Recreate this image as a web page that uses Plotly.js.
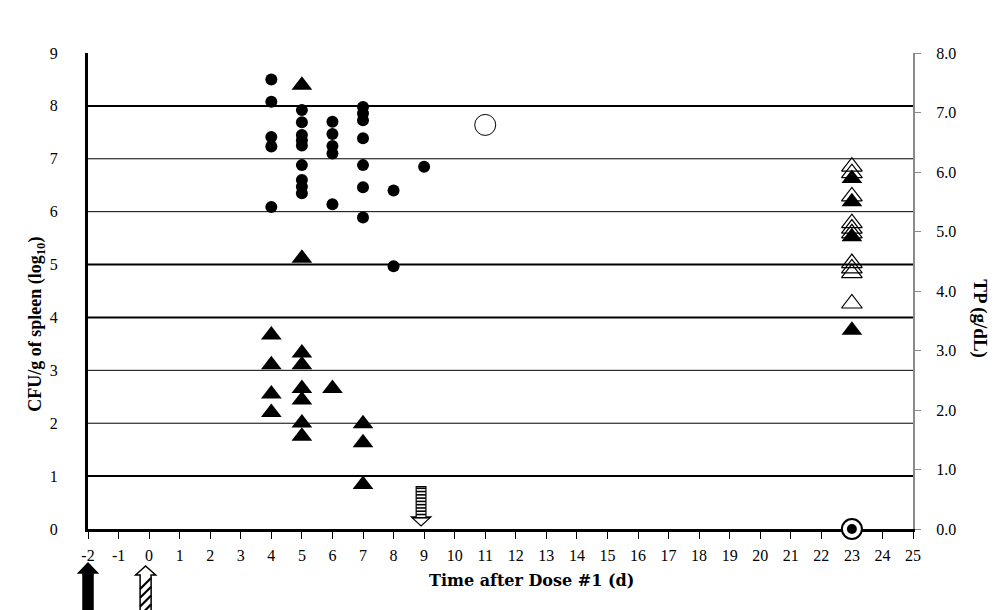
<!DOCTYPE html>
<html><head><meta charset="utf-8">
<script src="https://cdn.plot.ly/plotly-3.0.1.min.js"></script>
<style>html,body{margin:0;padding:0;background:#fff}#chart{width:1003px;height:610px}</style>
</head><body><div id="chart"></div><script>
// ---- data ----
const cfuDays   = [4,4,4,4,4, 5,5,5,5,5,5,5,5,5, 6,6,6,6,6, 7,7,7,7,7,7,7, 8,8, 9];
const cfuValues = [8.50,8.08,7.41,7.23,6.09, 7.92,7.69,7.45,7.35,7.25,6.88,6.60,6.47,6.35, 7.70,7.47,7.24,7.10,6.14, 7.98,7.86,7.73,7.39,6.88,6.46,5.89, 6.40,4.97, 6.85];
const tpDays    = [4,4,4,4, 5,5,5,5,5,5,5,5, 6, 7,7,7];
const tpValues  = [3.26,2.76,2.27,1.96, 7.46,4.55,2.96,2.76,2.36,2.17,1.78,1.56, 2.36, 1.77,1.45,0.75];
const recoveredDays   = [23,23,23,23,23,23,23,23,23,23];
const recoveredTPOpen = [6.09,5.98,5.59,5.14,5.05,4.97,4.47,4.38,4.30,3.79];
const recoveredFilledDays = [23,23,23,23];
const recoveredTPFilled   = [5.89,5.50,4.91,3.34];
const survivorDay = [11];
const survivorCFU = [7.64];
const clearedDay = [23];
const clearedCFU = [0];
const doseUpSolidDay = -2;
const doseUpHatchedDay = 0;
const doseDownStripedDay = 9;
const xTickVals = [-2,-1,0,1,2,3,4,5,6,7,8,9,10,11,12,13,14,15,16,17,18,19,20,21,22,23,24,25];
const xTickLabels = ['-2','-1','0','1','2','3','4','5','6','7','8','9','10','11','12','13','14','15','16','17','18','19','20','21','22','23','24','25'];
const yTickVals = [0,1,2,3,4,5,6,7,8,9];
const y2TickVals = [0,1,2,3,4,5,6,7,8];
const y2TickLabels = ['0.0','1.0','2.0','3.0','4.0','5.0','6.0','7.0','8.0'];
const gridLevels = [1,2,3,4,5,6,7,8];
const thickGridLevels = [1,4,5,8];

const serif = '"Liberation Serif", "Times New Roman", serif';
const xRange = [-2, 25];

const traces = [
  {x: cfuDays, y: cfuValues, type:'scatter', mode:'markers', yaxis:'y',
   marker:{symbol:'circle', size:12, color:'#000'}, cliponaxis:false},
  {x: tpDays, y: tpValues, type:'scatter', mode:'markers', yaxis:'y2',
   marker:{symbol:'triangle-up', size:18, color:'#000'}, cliponaxis:false},
  {x: recoveredFilledDays, y: recoveredTPFilled, type:'scatter', mode:'markers', yaxis:'y2',
   marker:{symbol:'triangle-up', size:18, color:'#000'}, cliponaxis:false},
  {x: recoveredDays, y: recoveredTPOpen, type:'scatter', mode:'markers', yaxis:'y2',
   marker:{symbol:'triangle-up-open', size:18, color:'#000', line:{width:1.2, color:'#000'}}, cliponaxis:false},
  {x: survivorDay, y: survivorCFU, type:'scatter', mode:'markers', yaxis:'y',
   marker:{symbol:'circle-open', size:21, color:'#000', line:{width:1, color:'#000'}}, cliponaxis:false},
  {x: clearedDay, y: clearedCFU, type:'scatter', mode:'markers', yaxis:'y',
   marker:{symbol:'circle', size:20, color:'#fff', line:{width:2, color:'#000'}}, cliponaxis:false},
  {x: clearedDay, y: clearedCFU, type:'scatter', mode:'markers', yaxis:'y',
   marker:{symbol:'circle', size:10, color:'#000'}, cliponaxis:false}
];

const shapes = [];
gridLevels.forEach(v => {
  shapes.push({type:'line', xref:'paper', yref:'y', x0:0, x1:1, y0:v, y1:v,
    line:{color:'#000', width: thickGridLevels.includes(v) ? 2 : 1}, layer:'below'});
});

// day -> paper x (so shapes under the axis are not clipped)
const pxPerPaper = 825;
const dayToPaper = d => (d - xRange[0]) / (xRange[1] - xRange[0]);
const pxW = p => p / pxPerPaper;

function upArrow(cx, shaftHalf, headHalf, apex, base, bottom, fill){
  shapes.push({type:'path', xref:'paper', yref:'paper',
    path:`M ${cx-shaftHalf},${bottom} L ${cx-shaftHalf},${base} L ${cx-headHalf},${base} L ${cx},${apex} L ${cx+headHalf},${base} L ${cx+shaftHalf},${base} L ${cx+shaftHalf},${bottom} Z`,
    fillcolor:fill, line:{color:'#000', width:1.5}});
}
const solidX = dayToPaper(doseUpSolidDay);
upArrow(solidX, pxW(5), pxW(9.5), -0.0714, -0.0924, -0.2, '#000');
const hatchX = dayToPaper(doseUpHatchedDay) - pxW(3.5);
upArrow(hatchX, pxW(5.5), pxW(10), -0.0777, -0.0966, -0.2, '#fff');
(function(){
  const h = pxW(5.5);
  const dy = 11 / 476;
  for (let y = -0.2; y < -0.0966 - dy + 0.004; y += 0.0185) {
    shapes.push({type:'line', xref:'paper', yref:'paper', x0:hatchX-h, x1:hatchX+h, y0:y, y1:y+dy,
      line:{color:'#000', width:2.2}});
  }
})();

// striped down arrow (data coords)
(function(){
  const c = doseDownStripedDay - 0.1, sh = 0.16, hh = 0.32;
  const top = 0.80, base = 0.23, tip = 0.06;
  shapes.push({type:'path', xref:'x', yref:'y',
    path:`M ${c-sh},${top} L ${c-sh},${base} L ${c-hh},${base} L ${c},${tip} L ${c+hh},${base} L ${c+sh},${base} L ${c+sh},${top} Z`,
    fillcolor:'#fff', line:{color:'#000', width:1.2}});
  for (let y = top - 0.03; y > base - 0.05; y -= 0.062) {
    const w = y >= base ? sh : Math.max(0.02, hh * (y - tip) / (base - tip));
    shapes.push({type:'line', xref:'x', yref:'y', x0:c-w, x1:c+w, y0:y, y1:y,
      line:{color:'#000', width:1.6}});
  }
})();

const layout = {
  width:1003, height:610,
  margin:{l:88, r:90, t:53, b:81, pad:0},
  paper_bgcolor:'#fff', plot_bgcolor:'#fff',
  showlegend:false,
  font:{family:serif, size:16, color:'#000'},
  xaxis:{range:xRange, tickvals:xTickVals, ticktext:xTickLabels, ticks:'outside', ticklen:7, tickwidth:1,
    tickcolor:'#000', showline:true, linecolor:'#000', linewidth:3, showgrid:false, zeroline:false,
    layer:'below traces', ticklabelstandoff:3, tickfont:{family:serif, size:16}},
  yaxis:{range:[0,9], tickvals:yTickVals, showline:true, linecolor:'#000', linewidth:3, showgrid:false,
    zeroline:false, ticks:'', ticklabelstandoff:24, layer:'below traces', tickfont:{family:serif, size:16}},
  yaxis2:{range:[0,8], overlaying:'y', side:'right', tickvals:y2TickVals, ticktext:y2TickLabels,
    showline:true, linecolor:'#8a8a8a', linewidth:2, ticks:'outside', ticklen:6, tickcolor:'#8a8a8a',
    showgrid:false, zeroline:false, ticklabelstandoff:12, layer:'below traces', tickfont:{family:serif, size:16}},
  shapes: shapes,
  annotations:[
    {text:'<b>Time after Dose #1 (d)</b>', xref:'paper', yref:'paper', x:0.537, y:-0.109,
     xanchor:'center', yanchor:'middle', showarrow:false, font:{family:'"DejaVu Serif", serif', size:16}},
    {text:'<b>CFU/g of spleen (log<sub>10</sub>)</b>', xref:'paper', yref:'paper', x:-0.062, y:0.431,
     xanchor:'center', yanchor:'middle', textangle:-90, showarrow:false, font:{family:serif, size:18}},
    {text:'<b>TP (g/dL)</b>', xref:'paper', yref:'paper', x:1.081, y:0.441,
     xanchor:'center', yanchor:'middle', textangle:90, showarrow:false, font:{family:serif, size:19}}
  ]
};

Plotly.newPlot('chart', traces, layout, {displayModeBar:false, staticPlot:true});
</script></body></html>
